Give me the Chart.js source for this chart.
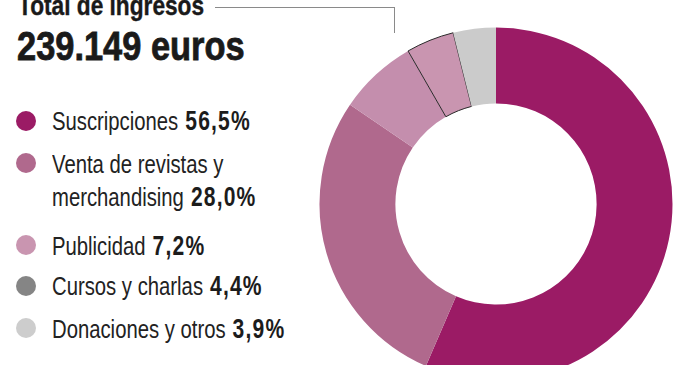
<!DOCTYPE html>
<html>
<head>
<meta charset="utf-8">
<script src="https://cdn.jsdelivr.net/npm/chart.js@4"></script>
<style>
  html, body { margin: 0; padding: 0; background: #fff; }
  body { width: 680px; height: 365px; overflow: hidden; position: relative;
         font-family: "Liberation Sans", Arial, sans-serif; color: #222; }
  .narrow { display: inline-block; transform-origin: 0 0; white-space: nowrap; }
  #title { position: absolute; left: 18px; top: -8px; font-size: 28px; line-height: 28px; font-weight: bold;
           -webkit-text-stroke: 0.4px #1a1a1a; color: #1a1a1a; }
  #title .narrow { transform: scaleX(0.81); }
  #total { position: absolute; left: 17px; top: 26px; font-size: 40px; line-height: 40px; font-weight: bold;
           color: #1a1a1a; -webkit-text-stroke: 0.8px #1a1a1a; }
  #total .narrow { transform: scaleX(0.86); }
  #leader { position: absolute; left: 215px; top: 7px; width: 179px; height: 25px;
            border-top: 1px solid #8a8a8a; border-right: 1px solid #8a8a8a; }
  #legend { position: absolute; left: 0; top: 105px; }
  .item { position: relative; padding-left: 52px; font-size: 26px; line-height: 33px; white-space: nowrap; }
  .item .narrow { transform: scaleX(0.78); }
  .item b { font-weight: bold; font-size: 27px; letter-spacing: 1.5px; color: #1c1c1c; }
  .dot { position: absolute; left: 16px; top: 5.5px; width: 20px; height: 20px; border-radius: 50%; }
  .item:nth-child(1) { margin-bottom: 9.5px; }
  .item:nth-child(2) { margin-bottom: 16px; }
  .item:nth-child(3) { margin-bottom: 7.5px; }
  .item:nth-child(4) { margin-bottom: 9.5px; }
  #wrap { position: absolute; left: 319px; top: 27px; width: 354px; height: 354px; }
</style>
</head>
<body>
<div id="title"><span class="narrow">Total de ingresos</span></div>
<div id="leader"></div>
<div id="total"><span class="narrow">239.149 euros</span></div>
<div id="legend"></div>
<div id="wrap"><canvas id="donut"></canvas></div>
<script>
const categories = ['Suscripciones', 'Venta de revistas y\nmerchandising', 'Publicidad', 'Cursos y charlas', 'Donaciones y otros'];
const shares = [56.5, 28.0, 7.2, 4.4, 3.9];
const sliceColors = ['#9b1b65', '#b0698d', '#c48ead', '#c995b0', '#cbcbcb'];
const legendColors = ['#9b1b65', '#b0698d', '#c995b0', '#858585', '#cdcdcd'];
const sliceBorders = [0, 0, 0, 1, 0];

const legend = document.getElementById('legend');
categories.forEach((name, i) => {
    const item = document.createElement('div');
    item.className = 'item';
    const dot = document.createElement('span');
    dot.className = 'dot';
    dot.style.background = legendColors[i];
    item.appendChild(dot);
    const txt = document.createElement('span');
    txt.className = 'narrow';
    const lines = name.split('\n');
    lines.forEach((line, j) => {
        txt.appendChild(document.createTextNode(line));
        if (j < lines.length - 1) txt.appendChild(document.createElement('br'));
    });
    const b = document.createElement('b');
    b.textContent = ' ' + shares[i].toFixed(1).replace('.', ',') + '%';
    txt.appendChild(b);
    item.appendChild(txt);
    legend.appendChild(item);
});

new Chart(document.getElementById('donut').getContext('2d'), {
    type: 'doughnut',
    data: {
        labels: categories,
        datasets: [{
            data: shares,
            backgroundColor: sliceColors,
            borderWidth: sliceBorders,
            borderColor: '#2a2a2a',
            hoverOffset: 0
        }]
    },
    options: {
        responsive: true,
        maintainAspectRatio: false,
        animation: false,
        cutout: '57%',
        plugins: { legend: { display: false }, tooltip: { enabled: false } },
        events: []
    }
});
</script>
</body>
</html>
